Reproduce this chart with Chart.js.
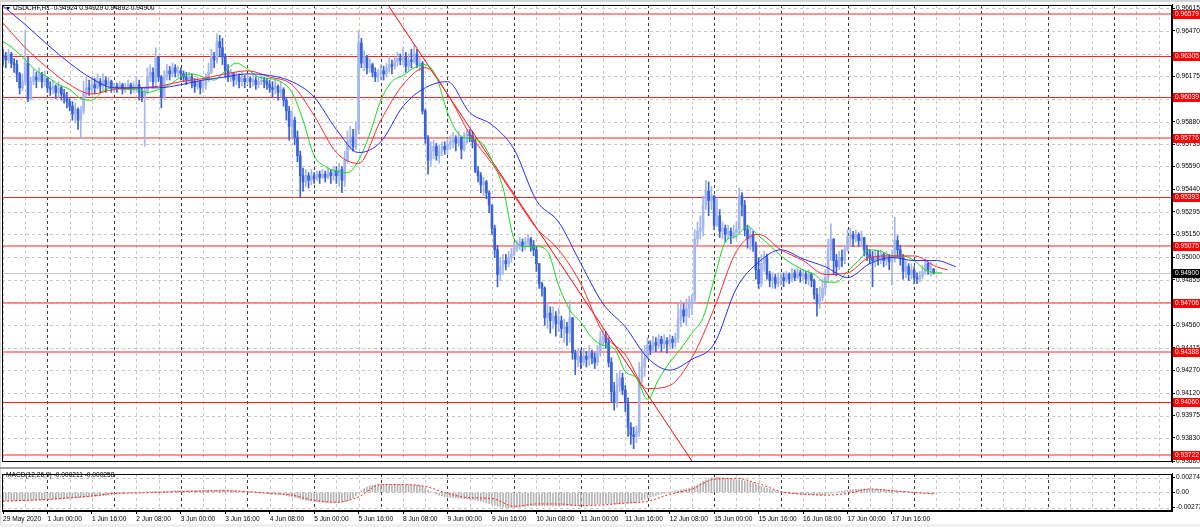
<!DOCTYPE html>
<html>
<head>
<meta charset="utf-8">
<title>USDCHF,H1</title>
<script src="https://cdn.jsdelivr.net/npm/chart.js@4.4.1/dist/chart.umd.min.js"></script>
<style>
  html, body { margin:0; padding:0; background:#f0f0f0; }
  #wrap { position:relative; width:1200px; height:527px; overflow:hidden; background:#f0f0f0; }
  #main { position:absolute; left:0; top:0; }
  #sep { position:absolute; left:0; top:467px; width:1200px; height:2px; background:#a0a0a0; }
  #macd { position:absolute; left:0; top:469px; }
</style>
</head>
<body>
<div id="wrap">
  <canvas id="main" width="1200" height="467"></canvas>
  <div id="sep"></div>
  <canvas id="macd" width="1200" height="58"></canvas>
</div>
<script>
// ---------------- DATA ----------------
const symbol = "USDCHF";
const timeframe = "H1";
const macdParams = [12, 26, 9];

// bar labels (every 16 hourly bars, starting at bar 0)
const timeLabels = ["29 May 2020","1 Jun 00:00","1 Jun 16:00","2 Jun 08:00","3 Jun 00:00","3 Jun 16:00",
  "4 Jun 08:00","5 Jun 00:00","5 Jun 16:00","8 Jun 08:00","9 Jun 00:00","9 Jun 16:00","10 Jun 08:00",
  "11 Jun 00:00","11 Jun 16:00","12 Jun 08:00","15 Jun 00:00","15 Jun 16:00","16 Jun 08:00",
  "17 Jun 00:00","17 Jun 16:00"];
const labelEvery = 16;      // bars between time labels
const firstMidnight = 16;   // bar index of 1 Jun 00:00
const barsPerDay = 24;

// price axis ticks
const priceTicks = [0.96615,0.96470,0.96320,0.96175,0.96025,0.95880,0.95735,0.95590,0.95440,0.95295,
  0.95150,0.95000,0.94855,0.94710,0.94560,0.94415,0.94270,0.94120,0.93975,0.93830,0.93680];
const hiddenTickLabels = [0.96320, 0.96025, 0.94710];
const priceMin = 0.93674, priceMax = 0.96637;

// horizontal levels
const levels = [0.96579,0.96305,0.96039,0.95776,0.95393,0.95075,0.94706,0.94388,0.94060,0.93722];
const levelLight = [true,false,false,true,false,true,true,true,false,true];

// trend line (bar index, price)
const trendBars = [130, 255];
const trendPrices = [0.96869, 0.93491];

// candles, in pips (price x 10000); open of each bar = previous close
const open0 = 9631;
const close = [
 9630,9628,9632,9626,9625,9619,9610,9614, 9626,9603,9614,9617,9615,9619,9614,9616,
 9610,9609,9611,9607,9610,9606,9604,9601, 9598,9593,9596,9589,9595,9606,9610,9609,
 9612,9610,9614,9611,9615,9612,9614,9610, 9611,9610,9612,9609,9610,9612,9610,9611,
 9612,9607,9604,9608,9617,9620,9614,9630, 9617,9604,9617,9621,9619,9623,9620,9621,
 9619,9617,9615,9617,9614,9611,9614,9610, 9612,9615,9620,9630,9628,9640,9636,9630,
 9621,9617,9619,9615,9617,9614,9616,9614, 9616,9614,9615,9612,9614,9615,9614,9612,
 9610,9609,9611,9607,9609,9602,9595,9585, 9589,9578,9566,9553,9549,9553,9550,9553,
 9551,9554,9552,9554,9552,9555,9553,9556, 9553,9557,9550,9563,9575,9578,9572,9583,
 9639,9626,9630,9623,9625,9620,9617,9619, 9621,9619,9623,9625,9624,9627,9629,9628,
 9630,9624,9628,9627,9632,9625,9626,9595, 9577,9563,9569,9572,9566,9569,9572,9570,
 9573,9575,9577,9574,9578,9570,9575,9580, 9579,9575,9556,9553,9547,9549,9542,9534,
 9519,9505,9489,9494,9498,9496,9500,9502, 9506,9508,9510,9507,9510,9512,9508,9505,
 9496,9483,9480,9461,9464,9459,9462,9457, 9459,9454,9455,9451,9461,9438,9434,9436,
 9432,9436,9434,9438,9435,9432,9438,9447, 9449,9445,9432,9413,9406,9417,9422,9414,
 9406,9390,9385,9384,9387,9422,9429,9435, 9443,9440,9445,9443,9447,9444,9446,9444,
 9447,9445,9448,9460,9466,9462,9467,9470, 9473,9512,9517,9519,9534,9543,9537,9540,
 9521,9527,9517,9519,9515,9517,9514,9516, 9518,9540,9534,9518,9512,9515,9508,9492,
 9483,9496,9500,9489,9485,9487,9483,9486, 9487,9485,9489,9486,9490,9487,9490,9488,
 9489,9486,9489,9485,9476,9470,9474,9480, 9487,9505,9512,9498,9494,9500,9498,9505,
 9513,9515,9512,9515,9511,9513,9505,9502, 9500,9498,9501,9499,9502,9498,9500,9497,
 9499,9511,9505,9500,9491,9494,9489,9492, 9487,9486,9488,9491,9496,9492,9492.4,9490.0];
const high = [
 9635,9633,9635,9633,9629,9628,9620,9619, 9647,9630,9617,9622,9620,9623,9620,9621,
 9617,9614,9615,9612,9614,9611,9609,9607, 9603,9601,9600,9597,9598,9614,9617,9615,
 9617,9616,9619,9616,9619,9617,9617,9615, 9613,9613,9614,9613,9613,9615,9613,9614,
 9617,9615,9610,9610,9623,9625,9623,9636, 9630,9618,9621,9625,9624,9626,9625,9624,
 9623,9621,9620,9620,9619,9616,9617,9615, 9616,9619,9626,9635,9633,9645,9644,9642,
 9632,9625,9622,9620,9620,9619,9620,9618, 9619,9617,9618,9617,9617,9619,9617,9616,
 9615,9614,9615,9612,9614,9610,9604,9598, 9595,9591,9582,9569,9558,9557,9555,9557,
 9555,9556,9556,9557,9556,9558,9557,9559, 9559,9561,9559,9569,9582,9585,9583,9588,
 9647,9642,9634,9631,9629,9626,9623,9622, 9625,9624,9626,9630,9628,9630,9633,9632,
 9636,9633,9632,9635,9638,9635,9630,9627, 9596,9579,9575,9576,9574,9573,9575,9575,
 9577,9579,9581,9579,9582,9578,9581,9583, 9583,9582,9577,9559,9555,9552,9550,9543,
 9534,9521,9508,9500,9502,9502,9504,9506, 9510,9511,9513,9512,9513,9515,9513,9511,
 9507,9496,9484,9481,9470,9468,9468,9465, 9467,9462,9460,9458,9472,9461,9440,9441,
 9440,9441,9439,9443,9440,9438,9443,9452, 9454,9452,9448,9435,9419,9425,9427,9425,
 9417,9409,9393,9390,9391,9432,9441,9443, 9448,9446,9449,9448,9450,9449,9450,9448,
 9450,9449,9451,9470,9472,9470,9473,9475, 9476,9518,9523,9527,9540,9550,9549,9546,
 9540,9538,9531,9523,9521,9521,9519,9521, 9523,9545,9542,9537,9521,9519,9517,9510,
 9500,9502,9504,9502,9491,9490,9489,9490, 9490,9490,9491,9490,9493,9492,9493,9492,
 9492,9491,9492,9490,9486,9480,9481,9486, 9492,9512,9522,9512,9502,9504,9505,9508,
 9518,9519,9517,9518,9516,9517,9513,9508, 9505,9504,9505,9504,9505,9503,9504,9502,
 9505,9526,9514,9508,9502,9498,9496,9496, 9494,9490,9491,9495,9500,9497,9497,9492.9];
const low = [
 9625,9623,9626,9623,9620,9614,9606,9608, 9612,9601,9602,9612,9610,9614,9610,9611,
 9607,9605,9606,9603,9604,9602,9600,9597, 9595,9589,9588,9583,9577,9593,9604,9605,
 9606,9606,9609,9607,9609,9607,9610,9607, 9607,9607,9609,9606,9607,9609,9606,9607,
 9607,9602,9601,9572,9606,9614,9610,9610, 9614,9597,9603,9615,9615,9617,9617,9617,
 9615,9614,9612,9614,9610,9607,9609,9606, 9607,9609,9614,9619,9623,9626,9630,9625,
 9617,9614,9614,9611,9612,9610,9611,9610, 9612,9610,9611,9609,9610,9612,9610,9609,
 9607,9604,9606,9602,9604,9598,9589,9576, 9578,9573,9562,9539,9543,9546,9545,9547,
 9548,9550,9548,9551,9549,9551,9548,9550, 9548,9546,9542,9546,9561,9570,9569,9570,
 9580,9623,9621,9619,9620,9617,9614,9614, 9615,9615,9617,9620,9619,9622,9624,9625,
 9625,9620,9621,9623,9626,9623,9621,9593, 9574,9554,9559,9564,9563,9561,9566,9567,
 9567,9570,9571,9569,9572,9564,9569,9574, 9575,9571,9555,9549,9542,9540,9538,9529,
 9515,9500,9481,9485,9489,9492,9494,9497, 9501,9504,9505,9504,9505,9507,9504,9501,
 9491,9480,9475,9456,9454,9451,9454,9449, 9452,9448,9445,9443,9445,9434,9424,9429,
 9428,9430,9429,9430,9431,9428,9430,9436, 9443,9441,9429,9406,9401,9403,9413,9411,
 9400,9384,9379,9376,9380,9384,9419,9423, 9434,9437,9438,9439,9441,9439,9441,9438,
 9442,9441,9442,9445,9455,9458,9456,9461, 9463,9470,9508,9512,9514,9531,9527,9531,
 9518,9520,9513,9512,9510,9512,9509,9512, 9512,9515,9527,9514,9506,9505,9504,9486,
 9480,9481,9491,9486,9481,9480,9480,9481, 9482,9481,9484,9483,9484,9485,9486,9484,
 9485,9483,9482,9481,9473,9462,9467,9472, 9476,9484,9498,9489,9488,9492,9494,9496,
 9504,9508,9507,9510,9507,9508,9501,9498, 9496,9481,9494,9495,9496,9494,9495,9492,
 9482,9497,9500,9495,9486,9487,9485,9486, 9483,9483,9484,9486,9489,9489,9488,9489.2];

// Alligator lines (pips), read every few bars; jaw shifted 8, teeth 5, lips 3 bars forward
const jawValues = [9663,9651,9638,9626,9616,9610,9610,9610,9612,9615,9617,9619,9618,9614,9604,9583,
  9568,9575,9598,9610,9614,9594,9586,9570,9537,9523,9496,9470,9455,9435,9427,9434,9444,9480,9497,
  9505,9499,9494,9487,9496,9500,9498,9498,9494];
const teethValues = [9652,9636,9623,9612,9606,9609,9610,9611,9614,9616,9619,9621,9617,9612,9592,9568,
  9561,9589,9612,9623,9606,9580,9561,9540,9519,9505,9483,9451,9437,9415,9417,9435,9467,9504,9515,
  9505,9498,9489,9490,9500,9501,9501,9494,9492];
const lipsValues = [9640,9635,9628,9621,9617,9612,9609,9603,9602,9608, 9610,9609,9609,9607,9609,9612,9617,9619,9617,9615,
  9621,9626,9622,9617,9616,9614,9607,9589,9566,9559, 9556,9555,9563,9580,9602,9614,9618,9623,9625,9617,
  9594,9580,9577,9575,9563,9545,9512,9507,9507,9504, 9482,9466,9458,9448,9443,9441,9426,9422,9408,9421,
  9432,9441,9451,9461,9486,9510,9514,9520,9514,9508, 9501,9496,9492,9489,9484,9484,9491,9498,9505,9504,
  9501,9501,9498,9492,9490,9490];

// MACD histogram (units of 0.00001), one per bar
const macdHist = [
 -155,-155,-153,-152,-150,-150,-148,-147, -144,-144,-142,-141,-139,-138,-135,-133,
 -131,-129,-125,-122,-120,-117,-113,-110, -107,-103,-100,-98,-94,-89,-84,-80,
 -75,-71,-67,-62,-58,-53,-49,-44, -40,-33,-28,-22,-17,-11,-7,-2,
 0,3,6,9,11,13,16,18, 20,22,24,27,28,29,30,31,
 32,33,33,34,36,37,37,38, 38,39,40,41,42,44,46,47,
 44,42,39,36,31,27,22,18, 13,9,4,0,-4,-9,-13,-18,
 -22,-27,-31,-36,-40,-47,-56,-67, -78,-89,-102,-117,-131,-142,-151,-158,
 -164,-169,-173,-178,-181,-183,-184,-185, -185,-183,-178,-167,-150,-128,-94,-56,
 -11,33,72,100,120,131,139,142, 144,145,146,146,145,145,144,144,
 143,142,141,139,137,133,128,111, 78,44,17,-11,-33,-50,-64,-75,
 -84,-91,-98,-102,-107,-111,-115,-120, -124,-131,-139,-150,-161,-175,-189,-205,
 -220,-235,-253,-264,-271,-275,-278,-278, -275,-272,-266,-262,-258,-253,-249,-244,
 -242,-242,-244,-246,-249,-250,-250,-249, -246,-244,-242,-241,-239,-238,-236,-235,
 -233,-231,-229,-226,-222,-218,-213,-209, -205,-204,-205,-209,-211,-209,-205,-200,
 -195,-194,-191,-186,-178,-164,-144,-124, -105,-89,-72,-56,-40,-27,-13,-2,
 9,18,27,36,47,58,69,80, 94,117,144,172,200,228,250,266,
 275,278,275,269,262,255,249,240, 233,229,222,213,202,189,175,155,
 133,111,91,73,56,40,27,13, 2,-7,-13,-18,-22,-24,-27,-29,
 -31,-33,-36,-38,-40,-42,-44,-42, -36,-24,-11,0,9,18,27,33,
 40,47,51,56,59,61,62,62, 61,60,58,56,53,50,47,42,
 38,33,29,24,20,16,11,7, 2,-2,-6,-10,-13,-16,-19,-21.1];
// MACD signal line (units of 0.00001), read every 8 bars + last bar
const macdSignal = [-161,-144,-129,-97,-64,-17,-8,0,17,24,32,17,-17,-49,-144,-178,-80,144,144,111,
  -17,-97,-111,-255,-211,-211,-242,-228,-194,-161,-33,64,242,258,161,17,-32,-49,-17,64,32,0,-25.8];
const macdTicks = [0.002745, 0, -0.00277];
const macdTickLabels = ["0.002745", "0.00", "-0.00277"];

// ---------------- BUILD ----------------
const PIP = 10000, MU = 100000;
const N = close.length;
function sampleBars(step, upto, extra) { const a = []; for (let b = 0; b <= upto; b += step) a.push(b); a.push(extra); return a; }
const jawBars = sampleBars(8, 336, N - 1 + 8);
const teethBars = sampleBars(8, 336, N - 1 + 5);
const lipsBars = sampleBars(4, 336, N - 1 + 3);
const signalBars = sampleBars(8, 328, N - 1);

const open = close.map((c, i) => i === 0 ? open0 : close[i - 1]);
const bullCol = '#a3b6ef', bearCol = '#3a62d8';
const candleCol = close.map((c, i) => c >= open[i] ? bullCol : bearCol);
const wickData = close.map((c, i) => ({x: i, y: [low[i] / PIP, high[i] / PIP]}));
const bodyData = close.map((c, i) => ({x: i, y: [open[i] / PIP, c / PIP]}));
const pts = (bars, vals, div) => bars.map((b, k) => ({x: b, y: vals[k] / div}));

const X_MIN = -0.36, X_MAX = 420.8;
const FONT = 'Liberation Sans';
const FS = 6.6;

function drawVGrid(chart) {
  const {ctx, chartArea: a, scales: {x}} = chart;
  ctx.save(); ctx.lineWidth = 1; ctx.setLineDash([3, 3]);
  for (let i = 0; i <= X_MAX; i += 8) {
    const px = Math.round(x.getPixelForValue(i)) + 0.5;
    const sep = (i - firstMidnight) % barsPerDay === 0;
    ctx.strokeStyle = sep ? '#3a3a3a' : '#c6c6c6';
    ctx.beginPath(); ctx.moveTo(px, a.top); ctx.lineTo(px, a.bottom); ctx.stroke();
  }
  ctx.restore();
}
function drawHGrid(chart, ticks) {
  const {ctx, chartArea: a, scales: {y}} = chart;
  ctx.save(); ctx.lineWidth = 1; ctx.setLineDash([3, 3]); ctx.strokeStyle = '#c6c6c6';
  ticks.forEach(v => {
    const py = Math.round(y.getPixelForValue(v)) + 0.5;
    ctx.beginPath(); ctx.moveTo(a.left, py); ctx.lineTo(a.right, py); ctx.stroke();
  });
  ctx.restore();
}
function drawFrame(chart) {
  const {ctx, chartArea: a} = chart;
  ctx.save(); ctx.strokeStyle = '#000'; ctx.lineWidth = 1;
  ctx.strokeRect(a.left + 0.5, a.top + 0.5, a.right - a.left - 1, a.bottom - a.top - 1);
  ctx.restore();
}

const mainPlugin = {
  id: 'mainDeco',
  beforeDraw(chart) {
    const {ctx, width, height} = chart;
    ctx.save(); ctx.fillStyle = '#fff'; ctx.fillRect(0, 0, width, height);
    ctx.fillStyle = '#d6d6d6'; ctx.fillRect(0, 0, width, 2); ctx.fillRect(0, 0, 1, height);
    ctx.restore();
  },
  beforeDatasetsDraw(chart) {
    const {ctx, chartArea: a, scales: {y}} = chart;
    drawHGrid(chart, priceTicks);
    drawVGrid(chart);
    ctx.save();
    // current price line
    const cp = Math.round(y.getPixelForValue(close[N - 1] / PIP)) + 0.5;
    ctx.strokeStyle = '#c8c8c8'; ctx.lineWidth = 1;
    ctx.beginPath(); ctx.moveTo(a.left, cp); ctx.lineTo(a.right, cp); ctx.stroke();
    // levels
    levels.forEach((v, k) => {
      const py = Math.round(y.getPixelForValue(v)) + (levelLight[k] ? 0 : 0.5);
      ctx.strokeStyle = levelLight[k] ? 'rgba(255,40,40,0.5)' : '#ff2020';
      ctx.lineWidth = levelLight[k] ? 2 : 1;
      ctx.beginPath(); ctx.moveTo(a.left, py); ctx.lineTo(a.right, py); ctx.stroke();
    });
    ctx.restore();
  },
  afterDraw(chart) {
    const {ctx, chartArea: a, scales: {y}} = chart;
    drawFrame(chart);
    ctx.save();
    ctx.font = FS + 'px "' + FONT + '"';
    ctx.textBaseline = 'middle'; ctx.textAlign = 'left';
    levels.forEach(v => {
      const py = Math.round(y.getPixelForValue(v));
      ctx.fillStyle = '#ff0000'; ctx.fillRect(a.right + 1, py - 4, 28, 9);
      ctx.fillStyle = '#fff'; ctx.fillText(v.toFixed(5), a.right + 3, py + 0.5);
    });
    const cpv = close[N - 1] / PIP;
    const cp = Math.round(y.getPixelForValue(cpv));
    ctx.fillStyle = '#000'; ctx.fillRect(a.right + 1, cp - 4, 28, 9);
    ctx.fillStyle = '#fff'; ctx.fillText(cpv.toFixed(5), a.right + 3, cp + 0.5);
    // title
    ctx.fillStyle = '#000';
    ctx.beginPath(); ctx.moveTo(6, 7); ctx.lineTo(10, 7); ctx.lineTo(8, 10); ctx.closePath(); ctx.fill();
    const t = symbol + ',' + timeframe + '  ' + [open[N - 1], high[N - 1], low[N - 1], close[N - 1]].map(v => (v / PIP).toFixed(5)).join(' ');
    ctx.fillText(t, 13, 8.5);
    ctx.restore();
  }
};

new Chart(document.getElementById('main'), {
  type: 'bar',
  data: {
    datasets: [
      {type: 'line', label: 'Jaw', data: pts(jawBars, jawValues, PIP), borderColor: '#2a2aff', borderWidth: 1, pointRadius: 0, cubicInterpolationMode: 'monotone', order: 0},
      {type: 'line', label: 'Teeth', data: pts(teethBars, teethValues, PIP), borderColor: '#ff2a2a', borderWidth: 1, pointRadius: 0, cubicInterpolationMode: 'monotone', order: 0},
      {type: 'line', label: 'Lips', data: pts(lipsBars, lipsValues, PIP), borderColor: '#12dc12', borderWidth: 1, pointRadius: 0, cubicInterpolationMode: 'monotone', order: 0},
      {type: 'line', label: 'Trend', data: trendBars.map((b, k) => ({x: b, y: trendPrices[k]})), borderColor: '#ff0000', borderWidth: 1, pointRadius: 0, order: 0},
      {label: 'wick', data: wickData, backgroundColor: candleCol, barThickness: 1, grouped: false, order: 2},
      {label: 'body', data: bodyData, backgroundColor: candleCol, barThickness: 2, grouped: false, minBarLength: 1, order: 1}
    ]
  },
  options: {
    animation: false, responsive: false, maintainAspectRatio: false,
    layout: {padding: {left: 2, top: 3, right: 0, bottom: 1}},
    plugins: {legend: {display: false}, tooltip: {enabled: false}},
    scales: {
      x: {type: 'linear', min: X_MIN, max: X_MAX, display: false, offset: false},
      y: {
        position: 'right', min: priceMin, max: priceMax,
        afterBuildTicks(s) { s.ticks = priceTicks.map(v => ({value: v})); },
        afterFit(s) { s.width = 28; },
        ticks: {font: {family: FONT, size: FS}, color: '#000', padding: 1,
          callback: v => hiddenTickLabels.includes(v) ? '' : v.toFixed(5)},
        grid: {drawOnChartArea: false, drawTicks: true, tickLength: 3, color: '#000'},
        border: {display: true, color: '#000'}
      }
    }
  },
  plugins: [mainPlugin]
});

const macdPlugin = {
  id: 'macdDeco',
  beforeDraw(chart) {
    const {ctx, width, height} = chart;
    ctx.save(); ctx.fillStyle = '#fff'; ctx.fillRect(0, 0, width, height - 3);
    ctx.fillStyle = '#f0f0f0'; ctx.fillRect(0, height - 3, width, 3);
    ctx.fillStyle = '#d6d6d6'; ctx.fillRect(0, 0, 1, height - 3);
    ctx.restore();
  },
  beforeDatasetsDraw(chart) { drawHGrid(chart, macdTicks); drawVGrid(chart); },
  afterDraw(chart) {
    const {ctx} = chart;
    drawFrame(chart);
    ctx.save();
    ctx.font = FS + 'px "' + FONT + '"'; ctx.fillStyle = '#000'; ctx.textBaseline = 'middle';
    const t = 'MACD(' + macdParams.join(',') + ') ' + (macdHist[N - 1] / MU).toFixed(6) + ' ' + (macdSignal[macdSignal.length - 1] / MU).toFixed(6);
    ctx.fillText(t, 6, 6.5);
    ctx.restore();
  }
};

new Chart(document.getElementById('macd'), {
  type: 'bar',
  data: {
    datasets: [
      {type: 'line', label: 'Signal', data: pts(signalBars, macdSignal, MU), borderColor: '#ff2020', borderWidth: 1, borderDash: [2, 2], pointRadius: 0, cubicInterpolationMode: 'monotone', order: 0},
      {label: 'MACD', data: macdHist.map((v, i) => ({x: i, y: v / MU})), backgroundColor: '#b4b4b4', barThickness: 1, grouped: false, order: 1}
    ]
  },
  options: {
    animation: false, responsive: false, maintainAspectRatio: false,
    layout: {padding: {left: 2, top: 0, right: 0, bottom: 0}},
    plugins: {legend: {display: false}, tooltip: {enabled: false}},
    scales: {
      x: {
        type: 'linear', min: X_MIN, max: X_MAX, offset: false,
        afterBuildTicks(s) { s.ticks = timeLabels.map((t, k) => ({value: k * labelEvery})); },
        afterFit(s) { s.height = 16; },
        ticks: {font: {family: FONT, size: FS}, color: '#000', align: 'start', maxRotation: 0, minRotation: 0, autoSkip: false, padding: 1,
          callback: v => timeLabels[Math.round(v / labelEvery)]},
        grid: {drawOnChartArea: false, drawTicks: true, tickLength: 3, color: '#000', offset: false},
        border: {display: true, color: '#000'}
      },
      y: {
        position: 'right', min: -0.0034, max: 0.0034,
        afterBuildTicks(s) { s.ticks = macdTicks.map(v => ({value: v})); },
        afterFit(s) { s.width = 28; },
        ticks: {font: {family: FONT, size: FS}, color: '#000', padding: 1,
          callback: (v, i) => macdTickLabels[macdTicks.indexOf(v)]},
        grid: {drawOnChartArea: false, drawTicks: true, tickLength: 3, color: '#000'},
        border: {display: true, color: '#000'}
      }
    }
  },
  plugins: [macdPlugin]
});
</script>
</body>
</html>
